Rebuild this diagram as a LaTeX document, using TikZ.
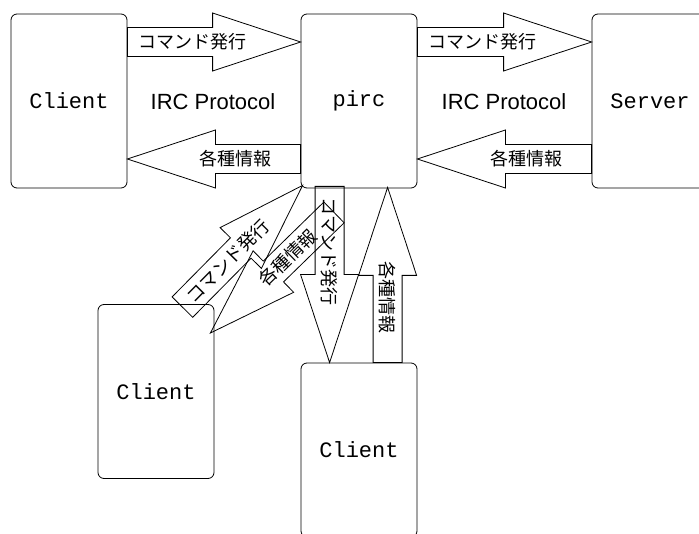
\documentclass[tikz,border=0pt]{standalone}
\usepackage{fontspec}
\setmainfont{Liberation Sans}
\setmonofont{Liberation Mono}
\newfontfamily\jpfont{Noto Sans CJK JP}
\usetikzlibrary{calc}

\begin{document}
\begin{tikzpicture}[x=1pt, y=-1pt, line width=0.8pt,
    box/.style={draw, rounded corners=6pt, minimum width=116pt, minimum height=174pt,
      font=\ttfamily\fontsize{22}{26}\selectfont},
    proto/.style={font=\fontsize{22}{26}\selectfont, inner sep=0pt},
    lbl/.style={font=\jpfont\fontsize{18}{20}\selectfont, inner sep=0pt},
    bigarrow/.style={to path={
      let \p1=(\tikztostart), \p2=(\tikztotarget),
          \n1={atan2(\y2-\y1,\x2-\x1)}, \n2={veclen(\x2-\x1,\y2-\y1)-88pt},
          \n3={\n1+180*(\n1<-90.5)-180*(\n1>89.5)} in
      ([shift={(\p1)},rotate=\n1]0pt,14.5pt) -- ([shift={(\p1)},rotate=\n1]\n2,14.5pt)
      -- ([shift={(\p1)},rotate=\n1]\n2,29pt) -- (\p2)
      -- ([shift={(\p1)},rotate=\n1]\n2,-29pt) -- ([shift={(\p1)},rotate=\n1]\n2,-14.5pt)
      -- ([shift={(\p1)},rotate=\n1]0pt,-14.5pt) -- cycle
      node[lbl, rotate=\n3] at ([shift={(\p1)},rotate=\n1]65pt,0pt) {#1}}}]
      \useasboundingbox (0,0) rectangle (699,534);

      % Boxes
      \node[box] (client1) at (69,101) {Client};
      \node[box] (pirc) at (359,101) {pirc};
      \node[box] (server) at (650,101) {Server};
      \node[box] (client2) at (156,391.5) {Client};
      \node[box] (client3) at (359,450) {Client};

      \node[proto] (proto1) at (213,102) {IRC Protocol};
      \node[proto] (proto2) at (504,102) {IRC Protocol};

      % Client <-> pirc <-> Server
      \draw (client1.east |- 0,42) to[bigarrow=コマンド発行] (pirc.west |- 0,42);
      \draw (pirc.west |- 0,159) to[bigarrow=各種情報] (client1.east |- 0,159);
      \draw (pirc.east |- 0,42) to[bigarrow=コマンド発行] (server.west |- 0,42);
      \draw (server.west |- 0,159) to[bigarrow=各種情報] (pirc.east |- 0,159);

      % Diagonal arrows to the left client
      \coordinate (cmdtail) at ($(client2.north east)+(-32,3)$);
      \coordinate (infotail) at ($(pirc.south)+(-25,24)$);
      \draw (cmdtail) to[bigarrow=コマンド発行] ($(pirc.south west)+(2,-3)$);
      \draw (infotail) to[bigarrow=各種情報] ($(client2.east |- 0,333)+(-4,0)$);

      % Vertical arrows to the lower client
      \draw ($(pirc.south west)+(29,-2)$) to[bigarrow=コマンド発行] ($(client3.north west)+(29,0)$);
      \draw ($(client3.north west)+(87,0)$) to[bigarrow=各種情報] ($(pirc.south west)+(87,-1)$);
    \end{tikzpicture}
\end{document}
